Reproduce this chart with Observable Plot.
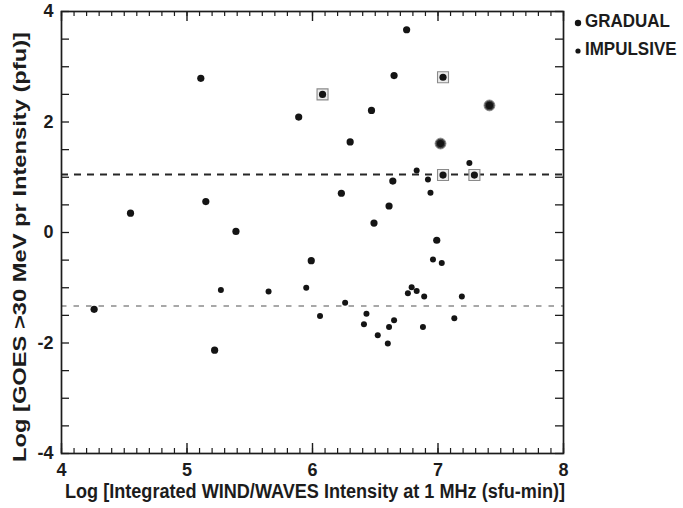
<!DOCTYPE html>
<html>
<head>
<meta charset="utf-8">
<script src="https://cdn.jsdelivr.net/npm/d3@7"></script>
<script src="https://cdn.jsdelivr.net/npm/@observablehq/plot@0.6"></script>
<style>
  html, body { margin: 0; padding: 0; background: #fff; }
</style>
</head>
<body>
<div id="chart"></div>
<script>
// Data
const gradualX = [5.11, 5.89, 4.55, 5.15, 5.39, 6.75, 6.65, 7.04, 6.08, 6.47, 7.41, 6.30, 7.02, 7.04, 7.29, 6.64, 6.23, 6.61, 6.49, 6.99, 5.99, 4.26, 5.22];
const gradualY = [2.79, 2.09, 0.35, 0.56, 0.02, 3.67, 2.84, 2.81, 2.50, 2.21, 2.30, 1.64, 1.61, 1.04, 1.04, 0.93, 0.71, 0.48, 0.17, -0.14, -0.51, -1.39, -2.13];
const impulsiveX = [7.25, 6.83, 6.92, 6.94, 5.27, 5.65, 5.95, 6.06, 6.96, 7.03, 6.26, 6.43, 6.41, 6.52, 6.60, 6.61, 6.65, 6.76, 6.79, 6.83, 6.89, 6.88, 7.13, 7.19];
const impulsiveY = [1.26, 1.12, 0.96, 0.72, -1.04, -1.07, -1.00, -1.51, -0.49, -0.55, -1.27, -1.47, -1.66, -1.86, -2.01, -1.71, -1.59, -1.10, -0.99, -1.06, -1.16, -1.71, -1.55, -1.16];
const largeX = [7.41, 7.02];
const largeY = [2.30, 1.61];
const boxedX = [6.08, 7.04, 7.04, 7.29];
const boxedY = [2.50, 2.81, 1.04, 1.04];
const thresholdUpper = [1.05];
const thresholdLower = [-1.33];
const xTicks = [4, 5, 6, 7, 8];
const yTicks = [-4, -2, 0, 2, 4];
const xMinor = d3.range(41).map(i => 4 + i * 0.1);
const yMinor = d3.range(17).map(i => -4 + i * 0.5);
const xLabel = "Log [Integrated WIND/WAVES Intensity at 1 MHz (sfu-min)]";
const yLabel = "Log [GOES >30 MeV pr Intensity (pfu)]";
const legendNames = ["GRADUAL", "IMPULSIVE"];

const gradual = gradualX.map((x, i) => ({x, y: gradualY[i]}));
const impulsive = impulsiveX.map((x, i) => ({x, y: impulsiveY[i]}));
const large = largeX.map((x, i) => ({x, y: largeY[i]}));
const boxed = boxedX.map((x, i) => ({x, y: boxedY[i]}));

const W = 683, H = 508, mL = 61, mR = 120, mT = 11, mB = 55;
const innerW = W - mL - mR, innerH = H - mT - mB;
const FONT = "'Liberation Sans', Arial, sans-serif";
const INK = "#1c1c1c";

const chart = Plot.plot({
  width: W, height: H,
  marginLeft: mL, marginRight: mR, marginTop: mT, marginBottom: mB,
  style: {fontFamily: FONT, background: "#fff", color: INK},
  x: {domain: [4, 8]},
  y: {domain: [-4, 4]},
  marks: [
    Plot.ruleY(thresholdUpper, {y: d => d, stroke: "#262626", strokeWidth: 2, strokeDasharray: "7,6"}),
    Plot.ruleY(thresholdLower, {y: d => d, stroke: "#8c8c8c", strokeWidth: 1.3, strokeDasharray: "5.5,7"}),
    // inward ticks on all four sides
    Plot.tickX(xMinor, {x: d => d, insetTop: innerH - 5, stroke: INK, strokeWidth: 1.2}),
    Plot.tickX(xTicks, {x: d => d, insetTop: innerH - 10, stroke: INK, strokeWidth: 1.4}),
    Plot.tickX(xMinor, {x: d => d, insetBottom: innerH - 5, stroke: INK, strokeWidth: 1.2}),
    Plot.tickX(xTicks, {x: d => d, insetBottom: innerH - 10, stroke: INK, strokeWidth: 1.4}),
    Plot.tickY(yMinor, {y: d => d, insetRight: innerW - 8, stroke: INK, strokeWidth: 1.3}),
    Plot.tickY(yMinor, {y: d => d, insetLeft: innerW - 8, stroke: INK, strokeWidth: 1.3}),
    Plot.frame({stroke: INK, strokeWidth: 1.7}),
    Plot.axisX(xTicks, {tickSize: 0, tickPadding: 10, fontSize: 18, fontWeight: "bold", label: null, tickFormat: d => String(d)}),
    Plot.axisY(yTicks, {tickSize: 0, tickPadding: 8, fontSize: 18, fontWeight: "bold", label: null, tickFormat: d => d < 0 ? "-" + Math.abs(d) : String(d)}),
    Plot.dot(boxed, {x: "x", y: "y", symbol: "square", r: 6.2, stroke: "#8a8a8a", strokeWidth: 1.1, fill: "#ececec"}),
    Plot.dot(large, {x: "x", y: "y", r: 5.4, fill: "#444", stroke: "#888", strokeWidth: 1}),
    Plot.dot(gradual, {x: "x", y: "y", r: 3.6, fill: "#141414", stroke: "none"}),
    Plot.dot(impulsive, {x: "x", y: "y", r: 3.0, fill: "#141414", stroke: "none"})
  ]
});

const svg = d3.select(chart);
// axis titles
svg.append("text")
  .attr("transform", "translate(315,498) scale(1,1.15)")
  .attr("text-anchor", "middle")
  .attr("font-family", FONT).attr("font-size", 18).attr("font-weight", "bold").attr("fill", INK)
  .attr("textLength", 500).attr("lengthAdjust", "spacingAndGlyphs")
  .text(xLabel);
svg.append("text")
  .attr("transform", "translate(26,247) rotate(-90)")
  .attr("text-anchor", "middle")
  .attr("font-family", FONT).attr("font-size", 18).attr("font-weight", "bold").attr("fill", INK)
  .attr("textLength", 430).attr("lengthAdjust", "spacingAndGlyphs")
  .text(yLabel);
// legend
const lg = svg.append("g").attr("font-family", FONT).attr("font-size", 17).attr("font-weight", "bold").attr("fill", INK).attr("text-anchor", "start");
const legendRows = [{y: 27, r: 3.2}, {y: 55, r: 2.6}];
legendNames.forEach((name, i) => {
  const row = legendRows[i];
  lg.append("circle").attr("cx", 578).attr("cy", row.y - 4).attr("r", row.r).attr("fill", "#141414");
  lg.append("text").attr("text-anchor", "start")
    .attr("transform", `translate(585,${row.y}) scale(1,1.12)`).text(name);
});
document.getElementById("chart").appendChild(chart);
</script>
</body>
</html>
